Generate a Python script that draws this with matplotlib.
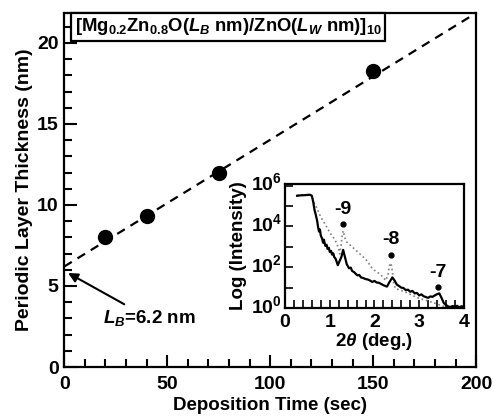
import numpy as np
import matplotlib
matplotlib.use("Agg")
import matplotlib.pyplot as plt
import matplotlib.transforms as mtrans
from matplotlib.ticker import MultipleLocator, FixedLocator, NullFormatter

plt.rcParams['font.family'] = ['Liberation Sans', 'DejaVu Sans']
plt.rcParams['font.weight'] = 'bold'
plt.rcParams['mathtext.fontset'] = 'custom'
plt.rcParams['mathtext.rm'] = 'Liberation Sans:bold'
plt.rcParams['mathtext.it'] = 'Liberation Sans:bold:italic'
plt.rcParams['mathtext.bf'] = 'Liberation Sans:bold'

# main data
dep_time = [20, 40, 75, 150]
period = [8.0, 9.35, 11.95, 18.25]
fit_x = [0, 200]
fit_y = [6.2, 21.85]

# inset XRR curves (2theta, log10 intensity)
solid_x = [0.27, 0.35, 0.45, 0.55, 0.6, 0.63, 0.66, 0.69, 0.72, 0.74, 0.76, 0.78, 0.8,
           0.83, 0.85, 0.87, 0.9, 0.93, 0.95, 0.98, 1.0, 1.03, 1.05, 1.08, 1.1, 1.13,
           1.15, 1.18, 1.22, 1.26, 1.3, 1.34, 1.38, 1.43, 1.47, 1.5, 1.55, 1.58, 1.62,
           1.66, 1.7, 1.75, 1.8, 1.85, 1.9, 1.95, 2.0, 2.05, 2.1, 2.15, 2.2, 2.28, 2.33,
           2.4, 2.45, 2.5, 2.55, 2.6, 2.65, 2.7, 2.75, 2.8, 2.85, 2.9, 2.95, 3.0, 3.05,
           3.1, 3.15, 3.2, 3.25, 3.3, 3.35, 3.4, 3.45, 3.5, 3.55, 3.6, 3.65, 3.7, 3.75,
           3.8, 3.85, 3.9, 3.95, 4.0]
solid_y = [5.5, 5.52, 5.53, 5.55, 5.5, 5.2, 4.8, 4.55, 4.25, 3.95, 3.75, 3.85, 3.55,
           3.4, 3.2, 3.35, 3.05, 3.1, 2.9, 2.95, 2.75, 2.8, 2.62, 2.68, 2.5, 2.42,
           2.3, 2.1, 2.3, 2.5, 2.85, 2.5, 2.15, 1.95, 1.98, 1.82, 1.75, 1.68, 1.6,
           1.62, 1.5, 1.47, 1.42, 1.4, 1.35, 1.28, 1.33, 1.25, 1.24, 1.18, 1.12,
           1.05, 1.25, 1.5, 1.35, 1.15, 1.08, 1.0, 0.98, 0.88, 0.9, 0.8, 0.84, 0.72, 0.74,
           0.62, 0.67, 0.58, 0.54, 0.5, 0.57, 0.55, 0.62, 0.68, 0.72, 0.5, 0.25, 0.15, 0.08,
           0.05, 0.1, 0.06, 0.11, 0.04, 0.09, 0.06]
dot_x = [0.27, 0.4, 0.5, 0.58, 0.62, 0.66, 0.7, 0.75, 0.8, 0.9, 1.0, 1.1, 1.15, 1.2,
         1.22, 1.25, 1.28, 1.3, 1.33, 1.37, 1.4, 1.5, 1.6, 1.7, 1.8, 1.9, 1.95, 2.0,
         2.1, 2.2, 2.25, 2.3, 2.34, 2.37, 2.4, 2.43, 2.47, 2.55, 2.7, 2.85, 3.0, 3.2,
         3.4, 3.5, 3.6, 3.7]
dot_y = [5.52, 5.55, 5.55, 5.55, 5.35, 5.1, 4.95, 4.7, 4.45, 4.1, 3.7, 3.4, 3.2, 2.9,
         2.65, 3.0, 3.6, 3.78, 3.5, 3.25, 3.2, 3.0, 2.8, 2.6, 2.4, 2.1, 1.95, 1.85,
         1.7, 1.5, 1.35, 1.6, 2.1, 2.2, 1.8, 1.2, 0.95, 0.9, 0.78, 0.62, 0.47, 0.35,
         0.2, 0.12, 0.05, 0.02]
peak_x = [1.3, 2.37, 3.43]
peak_y = [4.13, 2.62, 1.02]
peak_lbl = ['-9', '-8', '-7']

fig = plt.figure(figsize=(4.94, 4.18), dpi=100)
ax = fig.add_axes([0.130, 0.122, 0.834, 0.847])
ax.plot(fit_x, fit_y, color='black', linestyle=(0, (4, 3)), linewidth=1.6)
ax.plot(dep_time, period, 'o', color='black', markersize=10)
ax.set_xlim(0, 200)
ax.set_ylim(0, 21.85)
ax.xaxis.set_major_locator(MultipleLocator(50))
ax.xaxis.set_minor_locator(MultipleLocator(10))
ax.yaxis.set_major_locator(MultipleLocator(5))
ax.yaxis.set_minor_locator(MultipleLocator(1))
ax.tick_params(which='both', direction='in', top=False, right=False, width=1.5,
               labelsize=14, pad=4)
ax.tick_params(axis='x', which='both', pad=6.5)
ax.tick_params(which='major', length=9)
ax.tick_params(which='minor', length=6)
for s in ax.spines.values():
    s.set_linewidth(1.6)
ax.set_xlabel('Deposition Time (sec)', fontsize=13.5, fontweight='bold', labelpad=3)
ax.set_ylabel('Periodic Layer Thickness (nm)', fontsize=14, fontweight='bold', labelpad=3)

ax.text(0.025, 0.99,
        r'[Mg$_{0.2}$Zn$_{0.8}$O($L_B$ nm)/ZnO($L_W$ nm)]$_{10}$',
        transform=ax.transAxes, ha='left', va='top', fontsize=13.3, fontweight='bold',
        bbox=dict(boxstyle='square,pad=0.2', facecolor='white', edgecolor='black',
                  linewidth=1.6))
ax.annotate(r'$L_B$=6.2 nm', xy=(1.9, 5.8), xytext=(19, 3.0), fontsize=13.5,
            fontweight='bold', ha='left', va='center',
            arrowprops=dict(arrowstyle='-|>', color='black', lw=1.5,
                            mutation_scale=14, shrinkA=2, shrinkB=0))

# inset
ins = fig.add_axes([0.577, 0.263, 0.362, 0.297])
ins.plot(dot_x, 10 ** np.array(dot_y), color='gray', linestyle=':', linewidth=1.2)
ins.plot(solid_x, 10 ** np.array(solid_y), color='black', linewidth=1.6)
ins.plot(peak_x, 10 ** np.array(peak_y), 'o', color='black', markersize=3.5)
for px, py, lb in zip(peak_x, peak_y, peak_lbl):
    ins.text(px, 10 ** (py + 0.72), lb, ha='center', va='center', fontsize=14,
             fontweight='bold')
ins.set_yscale('log')
ins.set_xlim(0, 4)
ins.set_ylim(1, 10 ** 6.08)
ins.xaxis.set_major_locator(MultipleLocator(1))
ins.xaxis.set_minor_locator(MultipleLocator(0.2))
ins.yaxis.set_major_locator(FixedLocator([1, 1e2, 1e4, 1e6]))
ins.yaxis.set_minor_locator(FixedLocator([10, 1e3, 1e5]))
ins.yaxis.set_minor_formatter(NullFormatter())
ins.set_yticklabels([r'10$^{0}$', r'10$^{2}$', r'10$^{4}$', r'10$^{6}$'])
ins.tick_params(which='both', direction='in', top=False, right=False, width=1.2,
                labelsize=14, pad=2)
ins.tick_params(axis='x', which='both', pad=4)
ins.tick_params(which='major', length=6)
ins.tick_params(which='minor', length=6)
for s in ins.spines.values():
    s.set_linewidth(1.6)
ins.set_xlabel(r'$2\theta$ (deg.)', fontsize=13.5, fontweight='bold', labelpad=0)
ins.set_ylabel('Log (Intensity)', fontsize=13.5, fontweight='bold')
ins.yaxis.set_label_coords(-0.215, 0.5)

# nudge the inset decade labels up a little, as in the original
shift_up = mtrans.ScaledTranslation(0, 4 / 100, fig.dpi_scale_trans)
for t in ins.get_yticklabels():
    t.set_transform(t.get_transform() + shift_up)

fig.savefig('out.png', dpi=100)
